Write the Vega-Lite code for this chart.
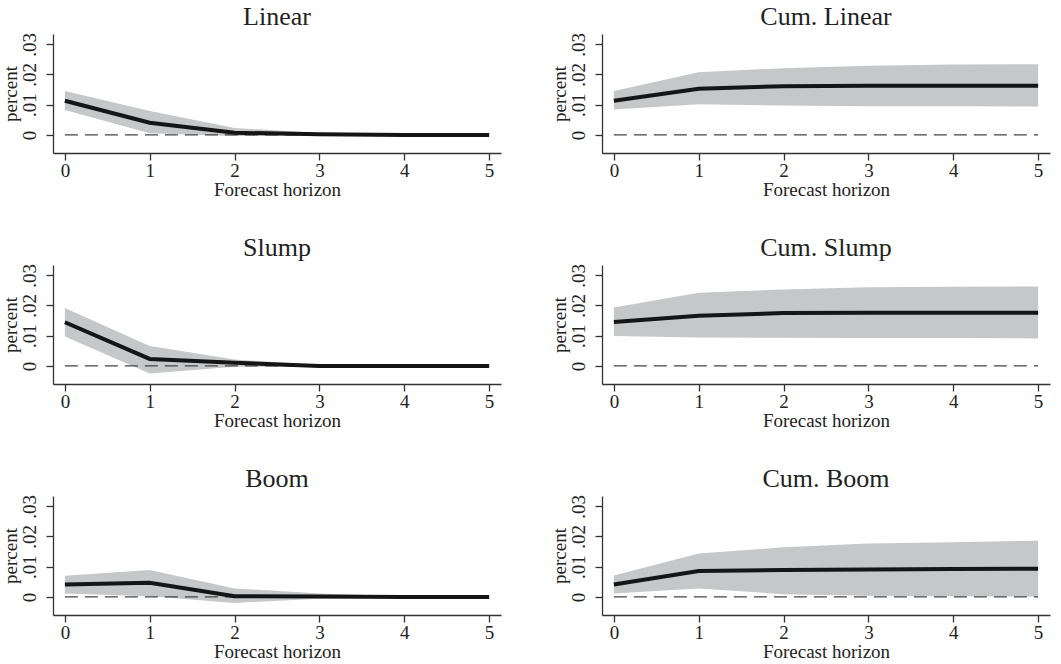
{
  "$schema": "https://vega.github.io/schema/vega-lite/v6.json",
  "background": "white",
  "padding": {"left": 1, "top": 4, "right": 5, "bottom": 5},
  "datasets": {
    "irf": [
      {"panel": "Linear", "h": 0, "est": 0.0113, "lo": 0.0082, "hi": 0.0145},
      {"panel": "Linear", "h": 1, "est": 0.0040, "lo": 0.0005, "hi": 0.0079},
      {"panel": "Linear", "h": 2, "est": 0.0007, "lo": -0.0004, "hi": 0.0023},
      {"panel": "Linear", "h": 3, "est": 0.0002, "lo": -0.0002, "hi": 0.0006},
      {"panel": "Linear", "h": 4, "est": 0.0000, "lo": -0.0001, "hi": 0.0002},
      {"panel": "Linear", "h": 5, "est": 0.0000, "lo": -0.0001, "hi": 0.0001},
      {"panel": "Cum. Linear", "h": 0, "est": 0.0113, "lo": 0.0084, "hi": 0.0145},
      {"panel": "Cum. Linear", "h": 1, "est": 0.0153, "lo": 0.0101, "hi": 0.0207},
      {"panel": "Cum. Linear", "h": 2, "est": 0.0161, "lo": 0.0097, "hi": 0.0221},
      {"panel": "Cum. Linear", "h": 3, "est": 0.0163, "lo": 0.0095, "hi": 0.0229},
      {"panel": "Cum. Linear", "h": 4, "est": 0.0163, "lo": 0.0095, "hi": 0.0233},
      {"panel": "Cum. Linear", "h": 5, "est": 0.0163, "lo": 0.0094, "hi": 0.0234},
      {"panel": "Slump", "h": 0, "est": 0.01445, "lo": 0.0097, "hi": 0.0192},
      {"panel": "Slump", "h": 1, "est": 0.0023, "lo": -0.0025, "hi": 0.0066},
      {"panel": "Slump", "h": 2, "est": 0.0010, "lo": -0.0003, "hi": 0.0021},
      {"panel": "Slump", "h": 3, "est": 0.0000, "lo": -0.0003, "hi": 0.0003},
      {"panel": "Slump", "h": 4, "est": 0.0000, "lo": -0.0001, "hi": 0.0001},
      {"panel": "Slump", "h": 5, "est": 0.0000, "lo": -0.0001, "hi": 0.0001},
      {"panel": "Cum. Slump", "h": 0, "est": 0.0145, "lo": 0.0099, "hi": 0.0193},
      {"panel": "Cum. Slump", "h": 1, "est": 0.0166, "lo": 0.0094, "hi": 0.0242},
      {"panel": "Cum. Slump", "h": 2, "est": 0.0175, "lo": 0.0093, "hi": 0.0253},
      {"panel": "Cum. Slump", "h": 3, "est": 0.0176, "lo": 0.0092, "hi": 0.0260},
      {"panel": "Cum. Slump", "h": 4, "est": 0.0176, "lo": 0.0092, "hi": 0.0262},
      {"panel": "Cum. Slump", "h": 5, "est": 0.0176, "lo": 0.0091, "hi": 0.0263},
      {"panel": "Boom", "h": 0, "est": 0.0041, "lo": 0.0011, "hi": 0.0070},
      {"panel": "Boom", "h": 1, "est": 0.0047, "lo": 0.0002, "hi": 0.0089},
      {"panel": "Boom", "h": 2, "est": 0.0002, "lo": -0.0020, "hi": 0.0028},
      {"panel": "Boom", "h": 3, "est": 0.0001, "lo": -0.0006, "hi": 0.0011},
      {"panel": "Boom", "h": 4, "est": 0.0000, "lo": -0.0001, "hi": 0.0002},
      {"panel": "Boom", "h": 5, "est": 0.0000, "lo": -0.0001, "hi": 0.0001},
      {"panel": "Cum. Boom", "h": 0, "est": 0.0041, "lo": 0.0011, "hi": 0.0071},
      {"panel": "Cum. Boom", "h": 1, "est": 0.0086, "lo": 0.0028, "hi": 0.0144},
      {"panel": "Cum. Boom", "h": 2, "est": 0.0089, "lo": 0.0009, "hi": 0.0164},
      {"panel": "Cum. Boom", "h": 3, "est": 0.0091, "lo": 0.0004, "hi": 0.0177},
      {"panel": "Cum. Boom", "h": 4, "est": 0.0092, "lo": 0.0002, "hi": 0.0181},
      {"panel": "Cum. Boom", "h": 5, "est": 0.0093, "lo": 0.0001, "hi": 0.0186}
    ],
    "zero": [{"z": 0}]
  },
  "columns": 2,
  "spacing": {"row": 36, "column": 49},
  "concat": [
    {
      "title": "Linear", "width": 448, "height": 119,
      "layer": [
        {"data": {"name": "irf"}, "transform": [{"filter": "datum.panel === 'Linear'"}],
         "mark": {"type": "area", "color": "#c6c7c9", "opacity": 1},
         "encoding": {
           "x": {"field": "h", "type": "quantitative", "scale": {"domain": [-0.14, 5.14], "nice": false, "zero": false},
                 "axis": {"values": [0, 1, 2, 3, 4, 5], "tickCount": 10, "format": "d", "title": "Forecast horizon", "labelOverlap": false}},
           "y": {"field": "lo", "type": "quantitative", "scale": {"domain": [-0.006, 0.0334], "nice": false},
                 "axis": {"values": [0, 0.01, 0.02, 0.03], "tickCount": 10, "labelExpr": "datum.value === 0 ? '0' : '.0' + round(datum.value * 100)", "labelAngle": 270, "labelOverlap": false, "title": "percent"}},
           "y2": {"field": "hi"}}},
        {"data": {"name": "zero"}, "mark": {"type": "rule", "color": "#444444", "strokeWidth": 1.2, "strokeDash": [13, 7]},
         "encoding": {"y": {"field": "z", "type": "quantitative"}, "x": {"datum": 0}, "x2": {"datum": 5}}},
        {"data": {"name": "irf"}, "transform": [{"filter": "datum.panel === 'Linear'"}],
         "mark": {"type": "line", "color": "#151515", "strokeWidth": 4},
         "encoding": {"x": {"field": "h", "type": "quantitative"}, "y": {"field": "est", "type": "quantitative"}}}
      ]
    },
    {
      "title": "Cum. Linear", "width": 448, "height": 119,
      "layer": [
        {"data": {"name": "irf"}, "transform": [{"filter": "datum.panel === 'Cum. Linear'"}],
         "mark": {"type": "area", "color": "#c6c7c9", "opacity": 1},
         "encoding": {
           "x": {"field": "h", "type": "quantitative", "scale": {"domain": [-0.14, 5.14], "nice": false, "zero": false},
                 "axis": {"values": [0, 1, 2, 3, 4, 5], "tickCount": 10, "format": "d", "title": "Forecast horizon", "labelOverlap": false}},
           "y": {"field": "lo", "type": "quantitative", "scale": {"domain": [-0.006, 0.0334], "nice": false},
                 "axis": {"values": [0, 0.01, 0.02, 0.03], "tickCount": 10, "labelExpr": "datum.value === 0 ? '0' : '.0' + round(datum.value * 100)", "labelAngle": 270, "labelOverlap": false, "title": "percent"}},
           "y2": {"field": "hi"}}},
        {"data": {"name": "zero"}, "mark": {"type": "rule", "color": "#444444", "strokeWidth": 1.2, "strokeDash": [13, 7]},
         "encoding": {"y": {"field": "z", "type": "quantitative"}, "x": {"datum": 0}, "x2": {"datum": 5}}},
        {"data": {"name": "irf"}, "transform": [{"filter": "datum.panel === 'Cum. Linear'"}],
         "mark": {"type": "line", "color": "#151515", "strokeWidth": 4},
         "encoding": {"x": {"field": "h", "type": "quantitative"}, "y": {"field": "est", "type": "quantitative"}}}
      ]
    },
    {
      "title": "Slump", "width": 448, "height": 119,
      "layer": [
        {"data": {"name": "irf"}, "transform": [{"filter": "datum.panel === 'Slump'"}],
         "mark": {"type": "area", "color": "#c6c7c9", "opacity": 1},
         "encoding": {
           "x": {"field": "h", "type": "quantitative", "scale": {"domain": [-0.14, 5.14], "nice": false, "zero": false},
                 "axis": {"values": [0, 1, 2, 3, 4, 5], "tickCount": 10, "format": "d", "title": "Forecast horizon", "labelOverlap": false}},
           "y": {"field": "lo", "type": "quantitative", "scale": {"domain": [-0.006, 0.0334], "nice": false},
                 "axis": {"values": [0, 0.01, 0.02, 0.03], "tickCount": 10, "labelExpr": "datum.value === 0 ? '0' : '.0' + round(datum.value * 100)", "labelAngle": 270, "labelOverlap": false, "title": "percent"}},
           "y2": {"field": "hi"}}},
        {"data": {"name": "zero"}, "mark": {"type": "rule", "color": "#444444", "strokeWidth": 1.2, "strokeDash": [13, 7]},
         "encoding": {"y": {"field": "z", "type": "quantitative"}, "x": {"datum": 0}, "x2": {"datum": 5}}},
        {"data": {"name": "irf"}, "transform": [{"filter": "datum.panel === 'Slump'"}],
         "mark": {"type": "line", "color": "#151515", "strokeWidth": 4},
         "encoding": {"x": {"field": "h", "type": "quantitative"}, "y": {"field": "est", "type": "quantitative"}}}
      ]
    },
    {
      "title": "Cum. Slump", "width": 448, "height": 119,
      "layer": [
        {"data": {"name": "irf"}, "transform": [{"filter": "datum.panel === 'Cum. Slump'"}],
         "mark": {"type": "area", "color": "#c6c7c9", "opacity": 1},
         "encoding": {
           "x": {"field": "h", "type": "quantitative", "scale": {"domain": [-0.14, 5.14], "nice": false, "zero": false},
                 "axis": {"values": [0, 1, 2, 3, 4, 5], "tickCount": 10, "format": "d", "title": "Forecast horizon", "labelOverlap": false}},
           "y": {"field": "lo", "type": "quantitative", "scale": {"domain": [-0.006, 0.0334], "nice": false},
                 "axis": {"values": [0, 0.01, 0.02, 0.03], "tickCount": 10, "labelExpr": "datum.value === 0 ? '0' : '.0' + round(datum.value * 100)", "labelAngle": 270, "labelOverlap": false, "title": "percent"}},
           "y2": {"field": "hi"}}},
        {"data": {"name": "zero"}, "mark": {"type": "rule", "color": "#444444", "strokeWidth": 1.2, "strokeDash": [13, 7]},
         "encoding": {"y": {"field": "z", "type": "quantitative"}, "x": {"datum": 0}, "x2": {"datum": 5}}},
        {"data": {"name": "irf"}, "transform": [{"filter": "datum.panel === 'Cum. Slump'"}],
         "mark": {"type": "line", "color": "#151515", "strokeWidth": 4},
         "encoding": {"x": {"field": "h", "type": "quantitative"}, "y": {"field": "est", "type": "quantitative"}}}
      ]
    },
    {
      "title": "Boom", "width": 448, "height": 119,
      "layer": [
        {"data": {"name": "irf"}, "transform": [{"filter": "datum.panel === 'Boom'"}],
         "mark": {"type": "area", "color": "#c6c7c9", "opacity": 1},
         "encoding": {
           "x": {"field": "h", "type": "quantitative", "scale": {"domain": [-0.14, 5.14], "nice": false, "zero": false},
                 "axis": {"values": [0, 1, 2, 3, 4, 5], "tickCount": 10, "format": "d", "title": "Forecast horizon", "labelOverlap": false}},
           "y": {"field": "lo", "type": "quantitative", "scale": {"domain": [-0.006, 0.0334], "nice": false},
                 "axis": {"values": [0, 0.01, 0.02, 0.03], "tickCount": 10, "labelExpr": "datum.value === 0 ? '0' : '.0' + round(datum.value * 100)", "labelAngle": 270, "labelOverlap": false, "title": "percent"}},
           "y2": {"field": "hi"}}},
        {"data": {"name": "zero"}, "mark": {"type": "rule", "color": "#444444", "strokeWidth": 1.2, "strokeDash": [13, 7]},
         "encoding": {"y": {"field": "z", "type": "quantitative"}, "x": {"datum": 0}, "x2": {"datum": 5}}},
        {"data": {"name": "irf"}, "transform": [{"filter": "datum.panel === 'Boom'"}],
         "mark": {"type": "line", "color": "#151515", "strokeWidth": 4},
         "encoding": {"x": {"field": "h", "type": "quantitative"}, "y": {"field": "est", "type": "quantitative"}}}
      ]
    },
    {
      "title": "Cum. Boom", "width": 448, "height": 119,
      "layer": [
        {"data": {"name": "irf"}, "transform": [{"filter": "datum.panel === 'Cum. Boom'"}],
         "mark": {"type": "area", "color": "#c6c7c9", "opacity": 1},
         "encoding": {
           "x": {"field": "h", "type": "quantitative", "scale": {"domain": [-0.14, 5.14], "nice": false, "zero": false},
                 "axis": {"values": [0, 1, 2, 3, 4, 5], "tickCount": 10, "format": "d", "title": "Forecast horizon", "labelOverlap": false}},
           "y": {"field": "lo", "type": "quantitative", "scale": {"domain": [-0.006, 0.0334], "nice": false},
                 "axis": {"values": [0, 0.01, 0.02, 0.03], "tickCount": 10, "labelExpr": "datum.value === 0 ? '0' : '.0' + round(datum.value * 100)", "labelAngle": 270, "labelOverlap": false, "title": "percent"}},
           "y2": {"field": "hi"}}},
        {"data": {"name": "zero"}, "mark": {"type": "rule", "color": "#444444", "strokeWidth": 1.2, "strokeDash": [13, 7]},
         "encoding": {"y": {"field": "z", "type": "quantitative"}, "x": {"datum": 0}, "x2": {"datum": 5}}},
        {"data": {"name": "irf"}, "transform": [{"filter": "datum.panel === 'Cum. Boom'"}],
         "mark": {"type": "line", "color": "#151515", "strokeWidth": 4},
         "encoding": {"x": {"field": "h", "type": "quantitative"}, "y": {"field": "est", "type": "quantitative"}}}
      ]
    }
  ],
  "config": {
    "view": {"stroke": null},
    "font": "Liberation Serif",
    "axis": {
      "grid": false, "domainColor": "#333333", "tickColor": "#333333", "labelColor": "#222222", "titleColor": "#222222",
      "labelFont": "Liberation Serif", "titleFont": "Liberation Serif", "labelFontSize": 19, "titleFontSize": 19,
      "titleFontWeight": "normal", "tickSize": 7, "domainWidth": 1.3, "tickWidth": 1.3, "labelOverlap": false
    },
    "axisX": {"labelPadding": 1, "titlePadding": 0},
    "axisY": {"labelPadding": 7, "titlePadding": 0},
    "title": {"font": "Liberation Serif", "fontSize": 26, "fontWeight": "normal", "color": "#222222", "offset": 2}
  }
}
